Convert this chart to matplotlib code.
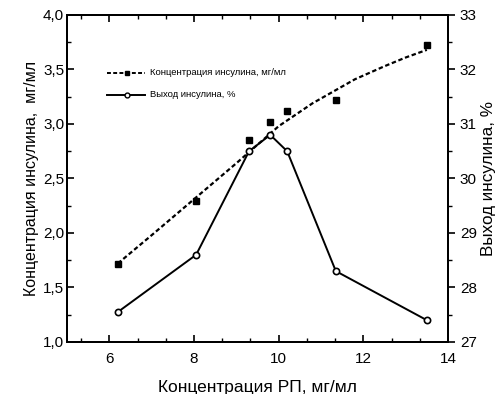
import matplotlib
matplotlib.use("Agg")
import matplotlib.pyplot as plt
from matplotlib.ticker import FixedLocator, MultipleLocator, FuncFormatter
import numpy as np

plt.rcParams["font.family"] = ["Liberation Sans", "DejaVu Sans"]

# measured points
rp_conc = [6.2, 8.05, 9.3, 9.8, 10.2, 11.35, 13.5]
insulin_conc = [1.72, 2.29, 2.85, 3.02, 3.12, 3.22, 3.72]
insulin_yield = [27.55, 28.6, 30.5, 30.8, 30.5, 28.3, 27.4]

# trend curve
trend_x = [6.2, 7.0, 8.0, 9.0, 10.0, 10.8, 11.8, 12.5, 13.0, 13.5]
trend_y = [1.72, 1.98, 2.31, 2.64, 2.98, 3.19, 3.41, 3.53, 3.61, 3.68]

fig = plt.figure(figsize=(5.02, 3.94), dpi=100)
ax = fig.add_axes([0.1335, 0.132, 0.759, 0.830])
ax2 = ax.twinx()

ax.plot(trend_x, trend_y, ls=(0, (2, 1.2)), lw=1.6, color="black")
ax.plot(rp_conc, insulin_conc, ls="none", marker="s", ms=4.5, color="black")
ax2.plot(rp_conc, insulin_yield, lw=1.4, color="black", marker="o", ms=4.5,
         mfc="white", mec="black", mew=1.2)

ax.set_xlim(5, 14)
ax.set_ylim(1.0, 4.0)
ax2.set_ylim(27, 33)

ax.xaxis.set_major_locator(FixedLocator([6, 8, 10, 12, 14]))
ax.xaxis.set_minor_locator(FixedLocator(list(np.arange(5, 14.01, 2 / 3) + 1 / 3)))
ax.yaxis.set_major_locator(MultipleLocator(0.5))
ax.yaxis.set_minor_locator(MultipleLocator(0.25))
ax2.yaxis.set_major_locator(MultipleLocator(1))
ax2.yaxis.set_minor_locator(MultipleLocator(0.5))
ax.yaxis.set_major_formatter(FuncFormatter(lambda v, p: f"{v:.1f}".replace(".", ",")))

ax.tick_params(axis="both", which="both", direction="in", top=True, labelsize=11)
ax.tick_params(axis="x", which="major", pad=7)
ax.tick_params(axis="y", which="major", pad=2)
ax.tick_params(which="major", length=5, width=1.2)
ax.tick_params(which="minor", length=3, width=1)
ax2.tick_params(axis="y", which="both", direction="out", labelsize=11)
ax2.tick_params(which="major", length=5, width=1.2)
ax2.tick_params(which="minor", length=3, width=1)
for a in (ax, ax2):
    for s in a.spines.values():
        s.set_linewidth(1.4)

ax.set_xlabel("Концентрация РП, мг/мл", fontsize=12.5, labelpad=10)
ax.set_ylabel("Концентрация инсулина,  мг/мл", fontsize=11.5, labelpad=3)
ax2.set_ylabel("Выход инсулина, %", fontsize=12.3, labelpad=3)

# legend drawn as in the original: small text, no frame
ax.plot([5.95, 6.85], [3.47, 3.47], ls=(0, (2, 1.2)), lw=1.4, color="black")
ax.plot([6.42], [3.47], marker="s", ms=3.5, color="black")
ax.text(6.97, 3.47, "Концентрация инсулина, мг/мл", fontsize=6.8, va="center")
ax.plot([5.95, 6.85], [3.27, 3.27], lw=1.4, color="black")
ax.plot([6.42], [3.27], marker="o", ms=3.5, mfc="white", mec="black")
ax.text(6.97, 3.27, "Выход инсулина, %", fontsize=6.8, va="center")

fig.savefig("out.png", dpi=100)
